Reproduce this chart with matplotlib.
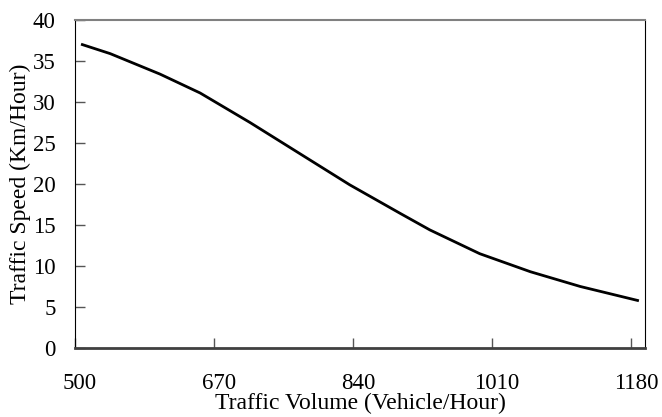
import numpy as np
import matplotlib.transforms as mtransforms
from matplotlib import pyplot as plt

plt.rcParams.update({'font.size': 17, 'font.family': 'Liberation Serif'})

# values
volume = [509, 543, 604, 653, 714, 775, 836, 898, 934, 995, 1057, 1118, 1188]
speed = [37.0, 35.9, 33.4, 31.1, 27.5, 23.7, 19.9, 16.4, 14.4, 11.5, 9.3, 7.5, 5.8]

x_ticks = [500, 670, 840, 1010, 1180]
y_ticks = [0, 5, 10, 15, 20, 25, 30, 35, 40]

fig = plt.figure(figsize=(6.62, 4.17), dpi=100)
ax = fig.add_axes([75 / 662, 1 - 348 / 417, 570 / 662, 328 / 417])

ax.plot(volume, speed, c='black', lw=2)

ax.set_xlim(500, 500 + 570 * 170 / 139)
ax.set_ylim(0, 40)
ax.set_xticks(x_ticks)
ax.set_yticks(y_ticks)
ax.tick_params(axis='both', direction='in', length=7, width=1, color='#555555',
               labelsize=16.5)
ax.tick_params(axis='x', pad=18)
ax.tick_params(axis='y', pad=14)

# tick labels sit a little right of their ticks in the reference
shift = mtransforms.ScaledTranslation(5 / 100, 0, fig.dpi_scale_trans)
for lbl in ax.get_xticklabels():
    lbl.set_transform(lbl.get_transform() + shift)

ax.set_xlabel('Traffic Volume (Vehicle/Hour)', labelpad=-1)
ax.set_ylabel('Traffic Speed (Km/Hour)', labelpad=1)

ax.spines['top'].set_color('#808080')
ax.spines['top'].set_linewidth(1.5)
ax.spines['right'].set_color('black')
ax.spines['left'].set_color('black')
ax.spines['bottom'].set_color('#404040')
ax.spines['bottom'].set_linewidth(2)

plt.savefig('out.png', dpi=100)
